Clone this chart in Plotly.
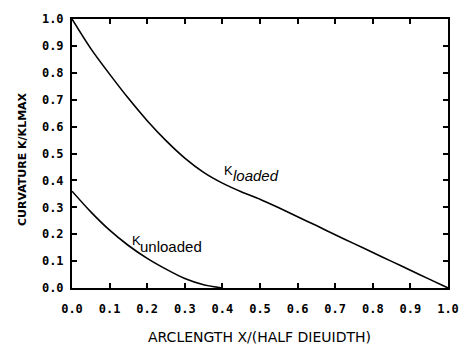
import plotly.graph_objects as go

# Data
x_loaded = [0.0, 0.05, 0.1, 0.15, 0.2, 0.25, 0.3, 0.35, 0.4, 0.45, 0.5,
            0.55, 0.6, 0.65, 0.7, 0.75, 0.8, 0.85, 0.9, 0.95, 1.0]
k_loaded = [1.0, 0.89, 0.795, 0.705, 0.622, 0.548, 0.483, 0.43, 0.39, 0.358, 0.33,
            0.298, 0.265, 0.232, 0.198, 0.165, 0.132, 0.099, 0.066, 0.033, 0.0]

x_unloaded = [0.0, 0.05, 0.1, 0.15, 0.2, 0.25, 0.3, 0.35, 0.4]
k_unloaded = [0.36, 0.283, 0.215, 0.158, 0.11, 0.07, 0.035, 0.012, 0.0]

tick_vals = [0.0, 0.1, 0.2, 0.3, 0.4, 0.5, 0.6, 0.7, 0.8, 0.9, 1.0]
tick_text = ["0.0", "0.1", "0.2", "0.3", "0.4", "0.5", "0.6", "0.7", "0.8", "0.9", "1.0"]

fig = go.Figure()
fig.add_trace(go.Scatter(x=x_loaded, y=k_loaded, mode="lines",
                         line=dict(color="black", width=1.6, shape="spline", smoothing=0.8),
                         showlegend=False, hoverinfo="skip"))
fig.add_trace(go.Scatter(x=x_unloaded, y=k_unloaded, mode="lines",
                         line=dict(color="black", width=1.6, shape="spline", smoothing=0.8),
                         showlegend=False, hoverinfo="skip"))

tickfont = dict(family="DejaVu Sans Mono", size=12, color="black", weight="bold")
axis_common = dict(
    range=[0, 1], tickvals=tick_vals, ticktext=tick_text,
    showline=True, linecolor="black", linewidth=2, mirror="ticks",
    ticks="inside", ticklen=5, tickwidth=1.5, tickcolor="black",
    showgrid=False, zeroline=False, tickfont=tickfont,
)

fig.update_xaxes(**axis_common, ticklabelstandoff=9)
fig.update_yaxes(**axis_common, ticklabelstandoff=4)

# Axis titles placed as paper annotations
fig.add_annotation(x=(264 - 72) / 385, y=-(338 - 288) / 273, xref="paper", yref="paper",
                   xanchor="center", yanchor="middle", showarrow=False,
                   text="ARCLENGTH X/(HALF DIEUIDTH)",
                   font=dict(family="DejaVu Sans", size=14, color="black"))
fig.add_annotation(x=(22 - 72) / 385, y=(288 - 157) / 273, xref="paper", yref="paper",
                   xanchor="center", yanchor="middle", showarrow=False, textangle=-90,
                   text="CURVATURE K/KLMAX",
                   font=dict(family="DejaVu Sans", size=11, color="black", weight="bold"))

# Curve labels
lab_font = dict(family="Liberation Sans", size=13, color="black")
sub_font = dict(family="Liberation Sans", size=15, color="black")
fig.add_annotation(x=0.398, y=0.438, text="K", showarrow=False, xanchor="left",
                   yanchor="middle", font=lab_font)
fig.add_annotation(x=0.422, y=0.418, text="<i>loaded</i>", showarrow=False, xanchor="left",
                   yanchor="middle", font=sub_font)
fig.add_annotation(x=0.154, y=0.176, text="K", showarrow=False, xanchor="left",
                   yanchor="middle", font=lab_font)
fig.add_annotation(x=0.176, y=0.154, text="unloaded", showarrow=False, xanchor="left",
                   yanchor="middle", font=sub_font)

fig.update_layout(
    width=471, height=345,
    margin=dict(l=72, r=14, t=15, b=57),
    paper_bgcolor="white", plot_bgcolor="white",
)

fig.write_html("out.html")
